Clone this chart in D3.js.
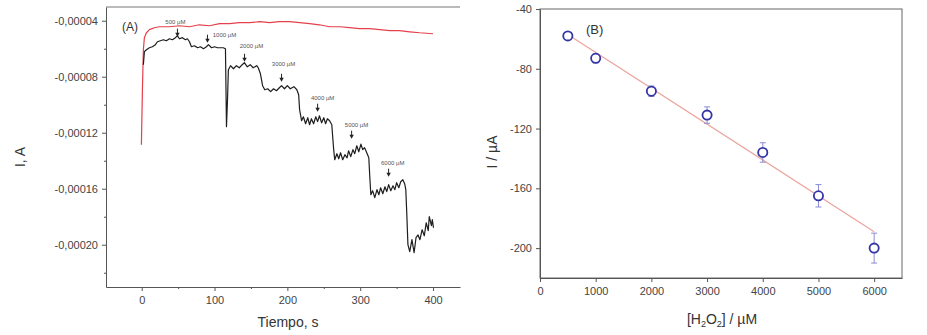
<!DOCTYPE html>
<html>
<head>
<meta charset="utf-8">
<script src="https://d3js.org/d3.v7.min.js"></script>
<style>
  body { margin: 0; background: #fff; }
  svg text { font-family: "Liberation Sans", Arial, sans-serif; }
  .axis path, .axis line { stroke: #555; }
  .axis text { fill: #444; font-size: 11px; }
</style>
</head>
<body>
<div id="content"></div>
<script>
// panel A: amperometric trace (time in s, current in uA)
const blackT = [2.3, 3.7, 6.5, 10.6, 14.7, 18.8, 21.6, 25.7, 29.8, 33.9, 38.1, 42.2, 46.3, 49.1, 51.8, 55.9, 60.0, 62.8, 65.6,
  68.3, 72.5, 76.6, 80.7, 84.8, 88.9, 91.7, 95.8, 100, 104, 108, 112, 115,
  116.4, 117.8, 119, 122, 126, 130, 134, 138, 141, 145, 149, 153, 158, 160, 163,
  166, 169, 173, 177, 181, 185, 189, 192, 196, 200, 204, 209, 213, 215.5,
  216.8, 219.5, 222, 225, 228, 230.5, 233, 236, 239, 241.5, 244, 247, 250, 252.5, 255, 258, 261,
  262, 263.6, 265, 268, 270.5, 273, 276, 279, 282, 284, 287, 290, 292.5, 295.3, 298, 301, 303.4, 306, 309, 311.8,
  313, 314.6, 317, 320, 323, 325.6, 328, 331, 334, 336.4, 339, 342, 345, 347.6, 350, 353, 355.6, 358.5, 361, 362.6,
  364, 365.5, 368, 371, 374, 376.6, 379.4, 382, 385, 388, 390.6, 393.4, 394.8, 397.8, 399, 400.6];
const blackI = [-71.4, -62.1, -60.7, -59.3, -58.6, -57.1, -55.0, -54.3, -53.6, -54.3, -52.9, -53.6, -52.1, -50.7, -52.9, -52.1, -53.6, -52.9, -55.0,
  -58.6, -57.9, -59.3, -58.6, -60.0, -58.6, -57.1, -59.3, -58.6, -59.3, -59.3, -59.3, -60.0,
  -115.7, -96.4, -75.0, -72.1, -74.3, -72.1, -73.6, -71.4, -70.0, -72.9, -71.4, -73.6, -72.1, -73.6, -77.9,
  -86.4, -89.3, -88.6, -90.7, -88.6, -90.0, -87.9, -86.4, -88.6, -86.4, -88.6, -87.1, -89.3, -92.9,
  -103.6, -111.4, -108.6, -113.6, -109.3, -114.3, -110.0, -113.6, -108.6, -112.1, -107.9, -112.9, -109.3, -113.6, -110.0, -111.4, -114.3,
  -121.4, -132.1, -139.3, -135.0, -138.6, -134.3, -139.3, -135.7, -137.9, -132.9, -137.1, -132.1, -135.0, -129.3, -133.6, -128.1, -132.1, -130.7, -134.3, -137.9,
  -150.0, -164.3, -161.4, -166.4, -160.7, -164.3, -159.3, -163.6, -158.6, -162.1, -157.1, -161.4, -157.9, -160.7, -155.7, -159.3, -155.0, -153.6, -156.4, -160.7,
  -178.6, -200.0, -205.0, -196.4, -205.7, -195.0, -193.0, -196.4, -189.3, -193.6, -184.3, -190.0, -180.0, -186.4, -182.1, -187.9];

const redT = [-0.4, 1, 2.3, 3.7, 6.5, 10.6, 17.5, 24.3, 38, 52, 65.6, 79, 93, 107, 120.5, 134, 148, 162, 175.6, 189, 203,
  217, 230.5, 244, 258, 272, 285.5, 299, 313, 326.7, 340.5, 354, 368, 381.7, 400];
const redI = [-128.6, -89.3, -60.7, -52.1, -48.6, -46.4, -45.0, -44.3, -44.3, -43.6, -44.3, -42.9, -43.6, -42.1, -42.1, -41.4, -41.4, -40.7, -41.4, -40.7, -40.7,
  -41.4, -42.1, -42.9, -44.3, -44.3, -45.0, -45.7, -45.7, -46.4, -47.1, -47.1, -47.9, -48.6, -49.3];

// additions marked with arrows
const addLabels = ["500 µM", "1000 µM", "2000 µM", "3000 µM", "4000 µM", "5000 µM", "6000 µM"];
const arrowT = [49.1, 90.3, 141.2, 192, 241.5, 288.2, 339];
const arrowI = [-51.4, -55.7, -69.3, -83.6, -105, -124.3, -151.4];
const labelT = [46.3, 113.7, 150.8, 194.8, 248.4, 295, 344.6];
const labelI = [-40.7, -50, -57.9, -70.7, -95, -114.3, -141.4];

const timeTicks = [0, 100, 200, 300, 400];
const timeMinor = [50, 150, 250, 350];
const currTicks = [-200, -160, -120, -80, -40];
const currMinor = [-220, -180, -140, -100, -60];

// panel B: calibration
const conc = [500, 1000, 2000, 3000, 4000, 5000, 6000];
const current = [-58, -73, -95, -111, -136, -165, -200];
const currentErr = [2, 3, 3.5, 5.5, 6.5, 7.5, 10];
const fitConc = [500, 6000];
const fitCurrent = [-57, -189];
const concTicks = [0, 1000, 2000, 3000, 4000, 5000, 6000];
const calTicks = [-200, -160, -120, -80, -40];

const svg = d3.select("#content").append("svg")
  .attr("width", 927).attr("height", 335);

// ---------- panel A ----------
const xA = d3.scaleLinear().domain([-49, 437]).range([106, 460]);
const yA = d3.scaleLinear().domain([-230.2, -30.2]).range([287, 7]);
const fmtA = d => (d * 1e-6).toFixed(5).replace(".", ",");

const gA = svg.append("g");

gA.append("g").attr("class", "axis")
  .attr("transform", `translate(0,${yA.range()[0]})`)
  .call(d3.axisBottom(xA).tickValues(timeTicks).tickSize(4).tickSizeOuter(0).tickPadding(5))
  .call(g => g.selectAll("text").attr("font-size", 12));
gA.append("g").attr("class", "axis")
  .attr("transform", `translate(0,${yA.range()[0]})`)
  .call(d3.axisBottom(xA).tickValues(timeMinor).tickSize(2).tickSizeOuter(0).tickFormat(""))
  .call(g => g.select(".domain").remove());

gA.append("g").attr("class", "axis")
  .attr("transform", `translate(${xA.range()[0]},0)`)
  .call(d3.axisLeft(yA).tickValues(currTicks).tickSize(4).tickSizeOuter(0).tickPadding(4).tickFormat(fmtA));
gA.append("g").attr("class", "axis")
  .attr("transform", `translate(${xA.range()[0]},0)`)
  .call(d3.axisLeft(yA).tickValues(currMinor).tickSize(2).tickFormat(""))
  .call(g => g.select(".domain").remove());

gA.append("line")
  .attr("x1", xA.range()[0]).attr("x2", xA.range()[1])
  .attr("y1", yA.range()[1]).attr("y2", yA.range()[1])
  .attr("stroke", "#777").attr("stroke-width", 1);

const lineA = d3.line().x(d => xA(d[0])).y(d => yA(d[1]));

gA.append("path")
  .datum(d3.zip(redT, redI))
  .attr("fill", "none").attr("stroke", "#e5404c").attr("stroke-width", 1.2)
  .attr("stroke-linejoin", "round")
  .attr("d", lineA);

gA.append("path")
  .datum(d3.zip(blackT, blackI))
  .attr("fill", "none").attr("stroke", "#1e1e1e").attr("stroke-width", 1.2)
  .attr("stroke-linejoin", "round")
  .attr("d", lineA);

const ann = gA.selectAll(".ann").data(d3.range(addLabels.length)).enter()
  .append("g").attr("class", "ann");
ann.append("line")
  .attr("x1", i => xA(arrowT[i])).attr("x2", i => xA(arrowT[i]))
  .attr("y1", i => yA(arrowI[i]) - 8).attr("y2", i => yA(arrowI[i]) - 3)
  .attr("stroke", "#222").attr("stroke-width", 1);
ann.append("path")
  .attr("d", i => {
    const x = xA(arrowT[i]), y = yA(arrowI[i]);
    return `M${x - 2.2},${y - 4}L${x + 2.2},${y - 4}L${x},${y}Z`;
  })
  .attr("fill", "#222");
ann.append("text")
  .attr("x", i => xA(labelT[i])).attr("y", i => yA(labelI[i]) + 2)
  .attr("text-anchor", "middle")
  .attr("font-size", 6).attr("fill", "#555")
  .text(i => addLabels[i]);

gA.append("text").attr("x", 122).attr("y", 31)
  .attr("font-size", 12).attr("fill", "#333").text("(A)");

gA.append("text").attr("x", 288).attr("y", 327)
  .attr("text-anchor", "middle").attr("font-size", 14).attr("fill", "#333")
  .text("Tiempo, s");
gA.append("text")
  .attr("transform", "translate(25,157) rotate(-90)")
  .attr("text-anchor", "middle").attr("font-size", 14).attr("fill", "#333")
  .text("I, A");

// ---------- panel B ----------
const xB = d3.scaleLinear().domain([0, 6500]).range([540, 902]);
const yB = d3.scaleLinear().domain([-220, -40]).range([278, 9]);

const gB = svg.append("g");

gB.append("rect")
  .attr("x", xB.range()[0]).attr("y", yB.range()[1])
  .attr("width", xB.range()[1] - xB.range()[0])
  .attr("height", yB.range()[0] - yB.range()[1])
  .attr("fill", "none").attr("stroke", "#666").attr("stroke-width", 1);

gB.append("g").attr("class", "axis")
  .attr("transform", `translate(0,${yB.range()[0]})`)
  .call(d3.axisBottom(xB).tickValues(concTicks).tickSize(4).tickSizeOuter(0).tickPadding(5)
    .tickFormat(d => String(d)))
  .call(g => g.selectAll("text").attr("font-size", 12));
gB.append("g").attr("class", "axis")
  .attr("transform", `translate(${xB.range()[0]},0)`)
  .call(d3.axisLeft(yB).tickValues(calTicks).tickSize(4).tickSizeOuter(0).tickPadding(4)
    .tickFormat(d => String(d)));

gB.append("line")
  .attr("x1", xB(fitConc[0])).attr("y1", yB(fitCurrent[0]))
  .attr("x2", xB(fitConc[1])).attr("y2", yB(fitCurrent[1]))
  .attr("stroke", "#e9a49c").attr("stroke-width", 1.2);

const pts = gB.selectAll(".pt").data(d3.range(conc.length)).enter()
  .append("g").attr("class", "pt");
pts.append("line")
  .attr("x1", i => xB(conc[i])).attr("x2", i => xB(conc[i]))
  .attr("y1", i => yB(current[i] + currentErr[i])).attr("y2", i => yB(current[i] - currentErr[i]))
  .attr("stroke", "#8b8bd2").attr("stroke-width", 1);
pts.append("line")
  .attr("x1", i => xB(conc[i]) - 3).attr("x2", i => xB(conc[i]) + 3)
  .attr("y1", i => yB(current[i] + currentErr[i])).attr("y2", i => yB(current[i] + currentErr[i]))
  .attr("stroke", "#8b8bd2").attr("stroke-width", 1);
pts.append("line")
  .attr("x1", i => xB(conc[i]) - 3).attr("x2", i => xB(conc[i]) + 3)
  .attr("y1", i => yB(current[i] - currentErr[i])).attr("y2", i => yB(current[i] - currentErr[i]))
  .attr("stroke", "#8b8bd2").attr("stroke-width", 1);
pts.append("circle")
  .attr("cx", i => xB(conc[i])).attr("cy", i => yB(current[i]))
  .attr("r", 4.6)
  .attr("fill", "#fff").attr("stroke", "#3434a6").attr("stroke-width", 1.8);

gB.append("text").attr("x", 586).attr("y", 34)
  .attr("font-size", 13).attr("fill", "#333").text("(B)");

const xl = gB.append("text").attr("x", 722).attr("y", 324)
  .attr("text-anchor", "middle").attr("font-size", 14).attr("fill", "#333");
xl.append("tspan").text("[H");
xl.append("tspan").attr("font-size", 9).attr("dy", 3).text("2");
xl.append("tspan").attr("dy", -3).text("O");
xl.append("tspan").attr("font-size", 9).attr("dy", 3).text("2");
xl.append("tspan").attr("dy", -3).text("] / µM");

gB.append("text")
  .attr("transform", "translate(497,152) rotate(-90)")
  .attr("text-anchor", "middle").attr("font-size", 14).attr("fill", "#333")
  .text("I / µA");
</script>
</body>
</html>
